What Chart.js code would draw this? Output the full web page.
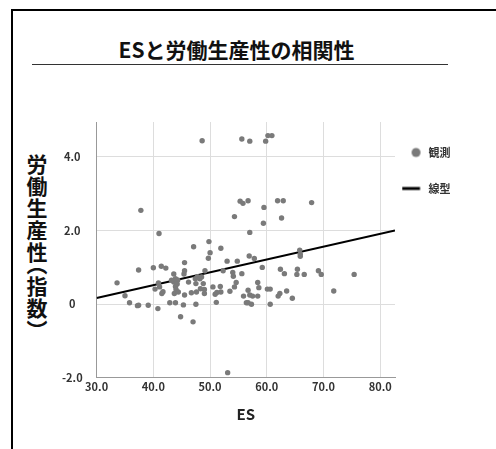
<!DOCTYPE html>
<html lang="ja">
<head>
<meta charset="utf-8">
<title>ESと労働生産性の相関性</title>
<script src="https://cdn.jsdelivr.net/npm/chart.js@4.4.1/dist/chart.umd.min.js"></script>
<style>
  html, body { margin: 0; padding: 0; background: #fff; }
  body { width: 496px; height: 449px; position: relative; overflow: hidden; font-family: "Noto Sans CJK JP", sans-serif; }
  #frame { position: absolute; left: 11px; top: 9px; width: 600px; height: 600px; border: 2px solid #000; }
  #title { position: absolute; left: 0; width: 473px; top: 35px; text-align: center; font-size: 21px; font-weight: bold; color: #111; line-height: 28px; }
  #rule { position: absolute; left: 32px; width: 416px; top: 64px; height: 0; border-top: 1px solid #333; }
  #ytitle { position: absolute; left: 26px; top: 154px; writing-mode: vertical-rl; font-size: 21px; font-weight: bold; letter-spacing: 1px; color: #111; line-height: 22px; }
  .paren { font-feature-settings: "vhal" 1; }
  #wrap { position: absolute; left: 39px; top: 100px; width: 457px; height: 349px; }
</style>
</head>
<body>
<div id="frame"></div>
<div id="title">ESと労働生産性の相関性</div>
<div id="rule"></div>
<div id="ytitle">労働生産性<span class="paren">（</span>指数<span class="paren">）</span></div>
<div id="wrap"><canvas id="chart"></canvas></div>
<script>
// observed points (ES score, productivity index)
const esValues = [
  48.6, 55.6, 57.0, 59.8, 60.2, 60.9, 55.3, 55.8, 56.7, 59.5,
  61.9, 62.9, 67.9, 37.8, 54.3, 59.4, 62.6, 41.0, 57.0, 47.1,
  49.8, 51.9, 50.0, 49.7, 56.9, 57.8, 59.2, 65.8, 65.9, 65.9,
  62.4, 63.1, 65.4, 65.3, 66.6, 69.1, 69.6, 75.4, 71.8, 58.4,
  58.6, 60.1, 60.6, 56.7, 57.0, 57.5, 58.4, 62.3, 62.0, 63.5,
  64.5, 56.4, 57.3, 60.6, 53.0, 54.8, 45.5, 45.5, 49.1, 52.3,
  54.0, 55.6, 54.6, 54.1, 47.8, 48.2, 47.4, 47.5, 48.8, 49.0,
  48.3, 49.0, 47.6, 46.7, 45.5, 43.7, 43.9, 43.6, 43.9, 44.3,
  50.5, 51.8, 50.9, 51.2, 51.9, 53.5, 54.3, 51.1, 55.9, 56.7,
  43.9, 45.3, 47.5, 44.8, 47.0, 53.1, 37.4, 40.0, 41.4, 42.2,
  33.6, 40.9, 40.3, 41.1, 41.5, 41.7, 35.0, 35.8, 37.2, 37.4,
  39.1, 40.8, 42.9, 43.6, 44.0, 44.2, 45.4, 46.2, 44.4, 43.2,
  48.5
];
const productivity = [
  4.44, 4.49, 4.43, 4.43, 4.58, 4.58, 2.80, 2.74, 2.81, 2.63,
  2.81, 2.81, 2.76, 2.55, 2.38, 2.20, 2.34, 1.92, 1.95, 1.56,
  1.70, 1.52, 1.40, 1.25, 1.31, 1.24, 1.00, 1.47, 1.36, 1.30,
  0.95, 0.83, 0.95, 0.81, 0.81, 0.91, 0.81, 0.81, 0.36, 0.59,
  0.45, 0.41, 0.41, 0.38, 0.25, 0.22, 0.22, 0.29, 0.22, 0.36,
  0.16, 0.04, 0.00, 0.00, 1.17, 1.17, 1.13, 0.91, 0.91, 0.91,
  0.86, 0.83, 0.59, 0.76, 0.75, 0.69, 0.69, 0.56, 0.56, 0.40,
  0.42, 0.29, 0.33, 0.31, 0.25, 0.29, 0.48, 0.60, 0.69, 0.66,
  0.47, 0.48, 0.27, 0.32, 0.33, 0.35, 0.47, 0.05, 0.22, 0.04,
  0.04, -0.02, 0.00, -0.34, -0.48, -1.86, 0.93, 0.99, 1.03, 0.98,
  0.58, 0.58, 0.41, 0.47, 0.29, 0.34, 0.23, 0.04, -0.04, -0.03,
  -0.03, -0.12, 0.04, 0.82, 0.40, 0.55, 0.82, 0.60, 0.33, 0.65,
  0.74
];

// linear fit at both ends of the axis
const trendX = [30, 82.6];
const trendY = [0.17, 2.0];

const seriesNames = ["観測", "線型"];
const xTicks = [30, 40, 50, 60, 70, 80];
const xTickLabels = ["30.0", "40.0", "50.0", "60.0", "70.0", "80.0"];
const yTicks = [-2, 0, 2, 4];
const yTickLabels = ["-2.0", "0", "2.0", "4.0"];

// legend marks as small images so the dot and the line sit like the original
function legendDot() {
  const c = document.createElement("canvas");
  c.width = 24; c.height = 12;
  const g = c.getContext("2d");
  g.fillStyle = "#7a7a7a";
  g.beginPath(); g.arc(6.5, 6, 4.5, 0, Math.PI * 2); g.fill();
  return c;
}
function legendLine() {
  const c = document.createElement("canvas");
  c.width = 40; c.height = 6;
  const g = c.getContext("2d");
  g.fillStyle = "#000";
  g.fillRect(0.5, 1.5, 18, 3);
  return c;
}
const legendMarks = [legendDot(), legendLine()];

Chart.defaults.font.family = '"Noto Sans CJK JP", "Noto Sans", sans-serif';
Chart.defaults.font.weight = "bold";
Chart.defaults.color = "#333";

const ctx = document.getElementById("chart").getContext("2d");

new Chart(ctx, {
  type: "scatter",
  data: {
    datasets: [
      {
        label: seriesNames[0],
        data: esValues.map((x, i) => ({ x: x, y: productivity[i] })),
        backgroundColor: "#7a7a7a",
        borderWidth: 0,
        pointRadius: 2.7,
        pointHoverRadius: 2.7
      },
      {
        label: seriesNames[1],
        type: "line",
        data: trendX.map((x, i) => ({ x: x, y: trendY[i] })),
        borderColor: "#000",
        borderWidth: 2,
        pointRadius: 0,
        fill: false
      }
    ]
  },
  options: {
    responsive: true,
    maintainAspectRatio: false,
    animation: false,
    layout: { padding: { left: 9, top: 22, right: 35.5, bottom: 23 } },
    scales: {
      x: {
        type: "linear",
        min: 30,
        max: 82.6,
        afterBuildTicks: (axis) => { axis.ticks = xTicks.map(v => ({ value: v })); },
        ticks: {
          padding: 2,
          font: { size: 11, weight: "bold" },
          color: "#333",
          maxRotation: 0,
          callback: (v) => xTickLabels[xTicks.indexOf(v)]
        },
        grid: { color: "#dddddd", drawTicks: false },
        border: { color: "#999", width: 1 },
        title: {
          display: true,
          text: "ES",
          font: { size: 15, weight: "bold" },
          color: "#222",
          padding: { top: 10, bottom: 3 }
        }
      },
      y: {
        min: -2,
        max: 4.95,
        afterBuildTicks: (axis) => { axis.ticks = yTicks.map(v => ({ value: v })); },
        ticks: {
          padding: 14,
          crossAlign: "center",
          font: { size: 11, weight: "bold" },
          color: "#333",
          callback: (v) => yTickLabels[yTicks.indexOf(v)]
        },
        grid: { color: "#dddddd", drawTicks: false },
        border: { color: "#999", width: 1 }
      }
    },
    plugins: {
      legend: {
        position: "right",
        align: "start",
        labels: {
          usePointStyle: true,
          pointStyleWidth: 3,
          padding: 25,
          color: "#333",
          font: { size: 11, weight: "bold" },
          generateLabels: (chart) => {
            const items = Chart.defaults.plugins.legend.labels.generateLabels(chart);
            items.forEach((item, i) => { item.pointStyle = legendMarks[i]; });
            return items;
          }
        }
      },
      tooltip: { enabled: false }
    }
  }
});
</script>
</body>
</html>
